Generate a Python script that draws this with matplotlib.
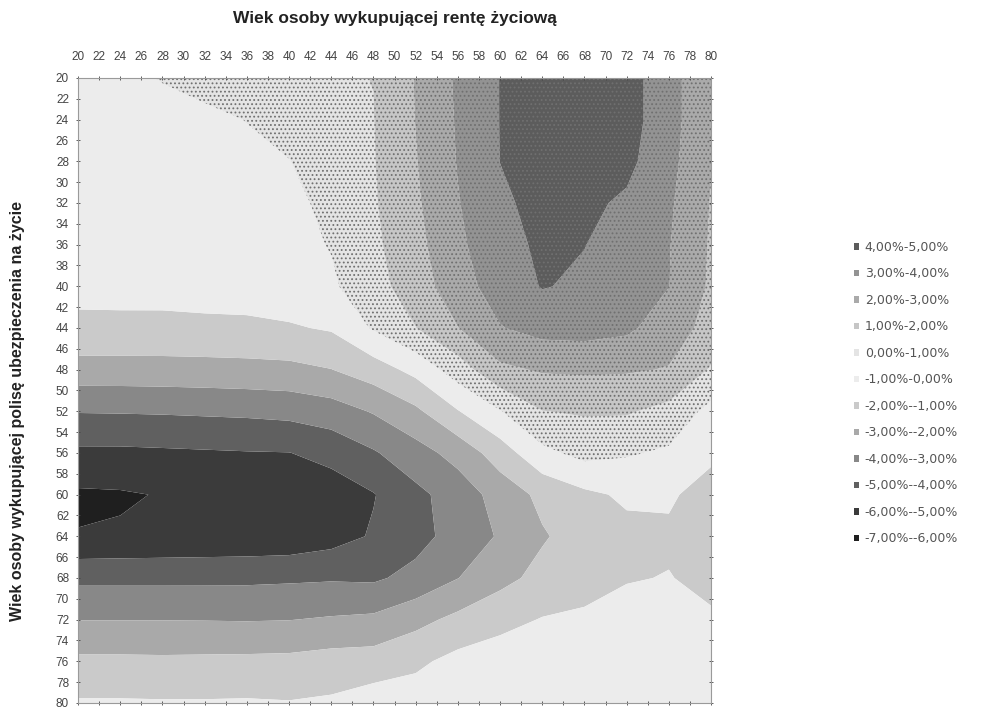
import numpy as np
import matplotlib
matplotlib.use("Agg")
import matplotlib.pyplot as plt
from matplotlib.patches import Patch

# wiek osoby wykupujacej rente (kolumny) i polise (wiersze)
ages_renta = [20, 24, 28, 32, 36, 40, 44, 48, 52, 56, 60, 64, 68, 72, 76, 80]
ages_polisa = [20, 24, 28, 32, 36, 40, 44, 48, 52, 56, 60, 64, 68, 72, 76, 80]

# roznica w %, jeden wiersz na wiek polisy
diff = [
    [-0.45, -0.25, 0.05, 0.3, 0.5, 0.7, 0.92, 1.01, 2.05, 3.15, 4.02, 4.5, 4.6, 4.4, 3.4, 2.1],
    [-0.6, -0.5, -0.35, -0.2, 0.02, 0.3, 0.6, 0.98, 2.02, 3.1, 4.02, 4.55, 4.6, 4.4, 3.4, 2.1],
    [-0.65, -0.6, -0.5, -0.35, -0.2, -0.02, 0.45, 0.95, 1.95, 3.05, 4.01, 4.5, 4.55, 4.25, 3.3, 2.05],
    [-0.7, -0.65, -0.55, -0.5, -0.35, -0.2, 0.2, 0.9, 1.85, 2.95, 3.8, 4.35, 4.2, 3.85, 3.15, 1.95],
    [-0.75, -0.72, -0.65, -0.58, -0.45, -0.3, 0.05, 0.8, 1.7, 2.8, 3.7, 4.15, 4.02, 3.6, 3.05, 1.9],
    [-0.75, -0.73, -0.7, -0.63, -0.55, -0.4, -0.15, 0.65, 1.5, 2.6, 3.45, 4.05, 3.85, 3.5, 3.02, 1.85],
    [-1.2, -1.2, -1.22, -1.2, -1.2, -1.1, -0.9, 0.1, 0.98, 1.98, 2.95, 3.35, 3.4, 3.2, 2.45, 1.7],
    [-2.4, -2.4, -2.38, -2.35, -2.3, -2.25, -2.02, -1.48, -0.7, 0.5, 1.8, 2.1, 2.15, 2.1, 1.95, 0.9],
    [-3.95, -3.93, -3.9, -3.85, -3.8, -3.7, -3.45, -2.92, -2.2, -1.05, -0.05, 0.98, 1.1, 1.1, 0.7, -0.3],
    [-5.2, -5.2, -5.15, -5.1, -5.05, -5.02, -4.7, -4.1, -3.4, -2.65, -1.5, -0.25, 0.3, 0.1, -0.15, -0.85],
    [-6.15, -6.1, -5.95, -5.9, -5.85, -5.75, -5.5, -5.05, -4.25, -3.55, -2.6, -1.75, -1.2, -0.85, -0.9, -1.3],
    [-5.96, -5.9, -5.85, -5.8, -5.75, -5.7, -5.4, -4.9, -4.35, -3.6, -2.9, -2.1, -1.55, -1.25, -1.12, -1.45],
    [-4.2, -4.2, -4.2, -4.2, -4.2, -4.15, -4.1, -4.15, -3.7, -3.02, -2.3, -1.7, -1.45, -1.05, -0.97, -1.2],
    [-3.02, -3.02, -3.02, -3.03, -3.05, -3.02, -2.9, -2.8, -2.3, -1.75, -1.3, -0.95, -0.8, -0.7, -0.75, -0.9],
    [-1.8, -1.8, -1.82, -1.8, -1.78, -1.75, -1.6, -1.55, -1.2, -0.7, -0.5, -0.3, -0.3, -0.35, -0.4, -0.55],
    [-0.9, -0.9, -0.92, -0.92, -0.9, -0.95, -0.85, -0.5, -0.5, -0.3, -0.1, -0.2, -0.2, -0.25, -0.3, -0.4],
]

levels = [-7, -6, -5, -4, -3, -2, -1, 0, 1, 2, 3, 4, 5]
band_colors = ['#1f1f1f', '#3b3b3b', '#606060', '#888888', '#a9a9a9', '#cacaca', '#ececec',
               '#e4e4e4', '#c6c6c6', '#aaaaaa', '#939393', '#5c5c5c']
legend_labels = ['-7,00%--6,00%', '-6,00%--5,00%', '-5,00%--4,00%', '-4,00%--3,00%',
                 '-3,00%--2,00%', '-2,00%--1,00%', '-1,00%-0,00%', '0,00%-1,00%',
                 '1,00%-2,00%', '2,00%-3,00%', '3,00%-4,00%', '4,00%-5,00%']

plt.rcParams['font.family'] = ['Liberation Sans', 'DejaVu Sans']
plt.rcParams['hatch.color'] = '#707070'
plt.rcParams['hatch.linewidth'] = 0.8

A, B = np.meshgrid(ages_renta, ages_polisa)
Z = np.array(diff)

fig = plt.figure(figsize=(9.98, 7.07), dpi=100)
ax = fig.add_axes([0.0782, 0.0057, 0.6343, 0.884])

ax.contourf(A, B, Z, levels=levels, colors=band_colors, antialiased=True)
# kropkowany wzor dla dodatnich przedzialow
ax.contourf(A, B, Z, levels=levels[7:], colors='none', hatches=['....'] * 5)

ax.set_xlim(20, 80)
ax.set_ylim(80, 20)
ax.xaxis.tick_top()
ticks = list(range(20, 81, 2))
ax.set_xticks(ticks)
ax.set_yticks(ticks)
ax.tick_params(axis='both', labelsize=8.5, colors='#444444', length=3, width=0.6,
               direction='inout', top=True, bottom=True, left=True, right=True,
               labeltop=True, labelbottom=False, labelleft=True, labelright=False)
ax.tick_params(axis='x', pad=9)
ax.tick_params(axis='y', pad=5)
for s in ax.spines.values():
    s.set_color('#9a9a9a')
    s.set_linewidth(0.8)

fig.text(0.396, 0.974, 'Wiek osoby wykupującej rentę życiową', ha='center', va='center',
         fontsize=12.5, fontweight='bold', color='#222222')
fig.text(0.018, 0.419, 'Wiek osoby wykupującej polisę ubezpieczenia na życie', ha='center',
         va='center', rotation=90, fontsize=11.5, fontweight='bold', color='#222222')

handles = [Patch(facecolor=c, edgecolor='none') for c in band_colors[::-1]]
fig.legend(handles, legend_labels[::-1], loc='upper left', bbox_to_anchor=(0.849, 0.668),
           frameon=False, handlelength=0.45, handleheight=0.45, handletextpad=0.45,
           labelspacing=1.08, labelcolor='#555555', borderpad=0,
           prop={'family': 'DejaVu Sans', 'size': 9})

fig.savefig('out.png', dpi=100)
